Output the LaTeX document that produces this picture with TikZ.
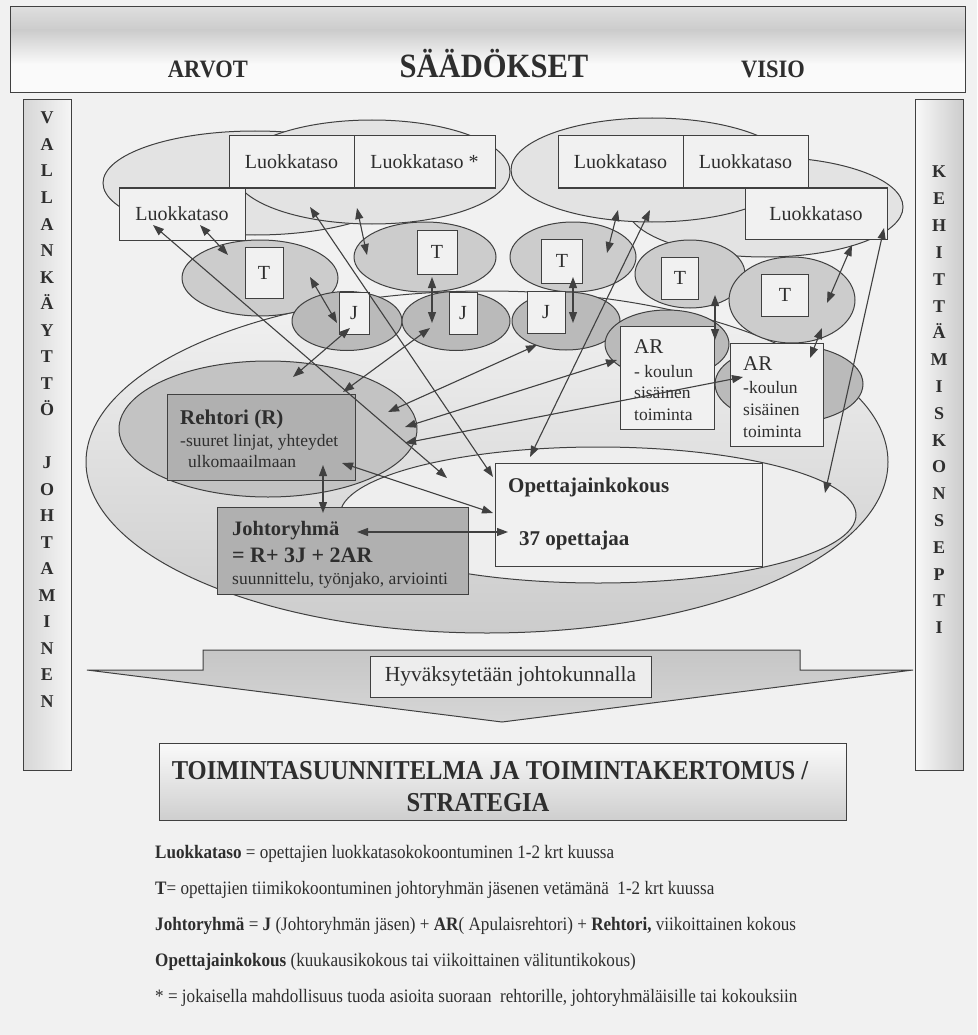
\documentclass[tikz,border=0pt]{standalone}
\usepackage{fontspec}
\setmainfont{Liberation Serif}
\newfontfamily\narrowserif[FakeStretch=0.9]{Liberation Serif}
\usetikzlibrary{shapes.geometric,arrows.meta}
\definecolor{bgc}{gray}{0.945}
\definecolor{ink}{gray}{0.18}
\definecolor{edge}{gray}{0.25}
\definecolor{lkfill}{gray}{0.89}
\definecolor{tfill}{gray}{0.80}
\definecolor{jfill}{gray}{0.73}
\definecolor{boxgray}{gray}{0.69}
\begin{document}
\begin{tikzpicture}[x=1pt,y=-1pt,
  every node/.style={text=ink},
  lkell/.style={ellipse, draw=edge, line width=1pt, fill=lkfill, inner sep=0pt},
  tell/.style={lkell, fill=tfill},
  jell/.style={lkell, fill=jfill},
  wbox/.style={rectangle, draw=edge, line width=1pt, fill=bgc, inner sep=0pt,
    font=\fontsize{20}{24}\selectfont},
  gbox/.style={wbox, fill=boxgray},
  txt/.style={inner sep=0pt, anchor=base west},
  conn/.style={draw=edge, line width=1.1pt, >={Triangle[length=11pt,width=8pt]}, <->},
  barletter/.style={font=\fontsize{18}{20}\selectfont\bfseries, text height=12pt,
    text depth=0pt, inner sep=0pt, anchor=center},
  ]
\useasboundingbox (0,0) rectangle (977,1035);
\fill[bgc] (0,0) rectangle (977,1035);

% ---------- top banner ----------
\shade[top color=gray!26, bottom color=gray!40] (10,7) rectangle (965,30);
\shade[top color=gray!40, bottom color=gray!4] (10,30) rectangle (965,64);
\fill[gray!4] (10,64) rectangle (965,93);
\node[draw=edge, line width=1pt, minimum width=955pt, minimum height=86pt, inner sep=0pt] (banner) at (487.5,50) {};
\node[inner sep=0pt, anchor=base, font=\narrowserif\bfseries\fontsize{25}{28}\selectfont] (arvot) at (208,78) {ARVOT};
\node[inner sep=0pt, anchor=base, font=\narrowserif\bfseries\fontsize{34}{38}\selectfont] (saad) at (494,78) {SÄÄDÖKSET};
\node[inner sep=0pt, anchor=base, font=\narrowserif\bfseries\fontsize{25}{28}\selectfont] (visio) at (773,78) {VISIO};

% ---------- side bars ----------
\node[rectangle, draw=edge, line width=1pt, left color=gray!32, right color=gray!8,
  minimum width=48pt, minimum height=670pt, inner sep=0pt] (leftbar) at (47,435) {};
\node[rectangle, draw=edge, line width=1pt, left color=gray!5, right color=gray!40,
  minimum width=48pt, minimum height=670pt, inner sep=0pt] (rightbar) at (939,435) {};
\foreach \ch/\s [count=\k] in {V/0,A/1,L/2,L/3,A/4,N/5,K/6,Ä/7,Y/8,T/9,T/10,Ö/11,
    J/13,O/14,H/15,T/16,A/17,M/18,I/19,N/20,E/21,N/22}
  \node[barletter] (lv\k) at (47,{118+\s*26.5}) {\ch};
\foreach \ch [count=\k from 0] in {K,E,H,I,T,T,Ä,M,I,S,K,O,N,S,E,P,T,I}
  \node[barletter] (rv\k) at (939,{172+\k*26.8}) {\ch};

% ---------- the school ----------
\node[ellipse, draw=edge, line width=1pt, top color=gray!10, bottom color=gray!40,
  minimum width=802pt, minimum height=342pt, inner sep=0pt] (school) at (487,462) {};

% class-level groups
\node[lkell, minimum width=304pt, minimum height=104pt] (lkE1) at (255,183) {};
\node[lkell, minimum width=276pt, minimum height=104pt] (lkE2) at (372,172) {};
\node[lkell, minimum width=276pt, minimum height=100pt] (lkE4) at (765,207) {};
\node[lkell, minimum width=282pt, minimum height=104pt] (lkE3) at (652,170) {};

% teams
\node[tell, minimum width=156pt, minimum height=76pt] (tE1) at (260,278) {};
\node[tell, minimum width=142pt, minimum height=70pt] (tE2) at (425,257) {};
\node[tell, minimum width=126pt, minimum height=70pt] (tE3) at (573,257) {};
\node[tell, minimum width=110pt, minimum height=68pt] (tE4) at (690,274) {};
\node[tell, minimum width=126pt, minimum height=86pt] (tE5) at (792,300) {};

% leadership members
\node[jell, minimum width=110pt, minimum height=59pt] (jE1) at (347,321) {};
\node[jell, minimum width=108pt, minimum height=59pt] (jE2) at (456,321) {};
\node[jell, minimum width=108pt, minimum height=58pt] (jE3) at (566,321) {};

% assistant principals
\node[jell, minimum width=124pt, minimum height=68pt] (arE1) at (667,344) {};
\node[jell, minimum width=148pt, minimum height=78pt] (arE2) at (789,384) {};

% principal
\node[ellipse, draw=edge, line width=1pt, fill=gray!47, inner sep=0pt,
  minimum width=298pt, minimum height=136pt,
  path picture={\shade[inner color=gray!10, outer color=gray!47] (375,420) circle (185pt);}]
  (rehE) at (268,429) {};

% teachers' meeting
\node[lkell, fill=gray!13, minimum width=516pt, minimum height=136pt] (opE) at (598,515) {};

% ---------- boxes ----------
\node[wbox, minimum width=126pt, minimum height=52pt] (lk1) at (182,214) {Luokkataso};
\node[wbox, minimum width=125pt, minimum height=52pt] (lk2) at (291.5,162) {Luokkataso};
\node[wbox, minimum width=141pt, minimum height=52pt] (lk3) at (424.5,162) {Luokkataso *};
\node[wbox, minimum width=125pt, minimum height=52pt] (lk4) at (620.5,162) {Luokkataso};
\node[wbox, minimum width=125pt, minimum height=52pt] (lk5) at (745.5,162) {Luokkataso};
\node[wbox, minimum width=142pt, minimum height=51pt] (lk6) at (816,213.5) {Luokkataso};

\node[wbox, minimum width=38pt, minimum height=51pt] (tb1) at (264,273) {T};
\node[wbox, minimum width=40pt, minimum height=44pt] (tb2) at (437,252) {T};
\node[wbox, minimum width=41pt, minimum height=44pt] (tb3) at (562,261) {T};
\node[wbox, minimum width=37pt, minimum height=42pt] (tb4) at (680,278) {T};
\node[wbox, minimum width=47pt, minimum height=42pt] (tb5) at (785,295) {T};

\node[wbox, minimum width=30pt, minimum height=42pt] (jb1) at (354,313) {J};
\node[wbox, minimum width=28pt, minimum height=42pt] (jb2) at (463,313) {J};
\node[wbox, minimum width=38pt, minimum height=42pt] (jb3) at (546,312) {J};

\node[wbox, minimum width=94pt, minimum height=103pt] (ar1) at (667,377.5) {};
\node[txt, font=\fontsize{21}{24}\selectfont] (ar1a) at (634,353) {AR};
\node[txt, font=\fontsize{17.5}{20}\selectfont] (ar1b) at (634,377) {- koulun};
\node[txt, font=\fontsize{17.5}{20}\selectfont] (ar1c) at (634,398) {sisäinen};
\node[txt, font=\fontsize{17.5}{20}\selectfont] (ar1d) at (634,420) {toiminta};

\node[wbox, minimum width=93pt, minimum height=103pt] (ar2) at (776.5,394.5) {};
\node[txt, font=\fontsize{21}{24}\selectfont] (ar2a) at (743,370) {AR};
\node[txt, font=\fontsize{17.5}{20}\selectfont] (ar2b) at (743,393) {-koulun};
\node[txt, font=\fontsize{17.5}{20}\selectfont] (ar2c) at (743,415) {sisäinen};
\node[txt, font=\fontsize{17.5}{20}\selectfont] (ar2d) at (743,437) {toiminta};

\node[gbox, minimum width=188pt, minimum height=86pt] (reh) at (261,437) {};
\node[txt, font=\fontsize{21}{24}\selectfont\bfseries] (reh1) at (180,424) {Rehtori (R)};
\node[txt, font=\fontsize{17.5}{20}\selectfont] (reh2) at (180,446) {-suuret linjat, yhteydet};
\node[txt, font=\fontsize{17.5}{20}\selectfont] (reh3) at (188,467) {ulkomaailmaan};

\node[gbox, minimum width=251pt, minimum height=87pt] (jr) at (342.5,550.5) {};
\node[txt, font=\fontsize{20.5}{24}\selectfont\bfseries] (jr1) at (232,535) {Johtoryhmä};
\node[txt, font=\fontsize{22}{24}\selectfont\bfseries] (jr2) at (232,562) {= R+ 3J + 2AR};
\node[txt, font=\fontsize{17.5}{20}\selectfont] (jr3) at (232,584) {suunnittelu, työnjako, arviointi};

\node[wbox, minimum width=267pt, minimum height=103pt,
  path picture={\shade[inner color=gray!30, outer color=bgc] (650,522) ellipse [x radius=85pt, y radius=32pt];}]
  (op) at (628.5,514.5) {};
\node[txt, font=\fontsize{21}{24}\selectfont\bfseries] (op1) at (508,492) {Opettajainkokous};
\node[txt, font=\fontsize{21}{24}\selectfont\bfseries] (op2) at (519,545) {37 opettajaa};

% ---------- connectors ----------
\coordinate (a1) at (153,225); \coordinate (a2) at (447,478);
\coordinate (b1) at (200,225); \coordinate (b2) at (228,255);
\coordinate (c1) at (310,207); \coordinate (c2) at (493,477);
\coordinate (d1) at (357,208); \coordinate (d2) at (367,255);
\coordinate (e1) at (310,277); \coordinate (e2) at (337,323);
\coordinate (f1) at (432,277); \coordinate (f2) at (432,323);
\coordinate (g1) at (350,328); \coordinate (g2) at (293,377);
\coordinate (h1) at (430,328); \coordinate (h2) at (343,392);
\coordinate (i1) at (537,345); \coordinate (i2) at (388,412);
\coordinate (j1) at (617,360); \coordinate (j2) at (405,427);
\coordinate (k1) at (743,377); \coordinate (k2) at (405,443);
\coordinate (l1) at (650,210); \coordinate (l2) at (530,457);
\coordinate (m1) at (618,210); \coordinate (m2) at (607,253);
\coordinate (n1) at (573,277); \coordinate (n2) at (573,323);
\coordinate (o1) at (852,245); \coordinate (o2) at (827,303);
\coordinate (p1) at (884,228); \coordinate (p2) at (825,493);
\coordinate (q1) at (715,295); \coordinate (q2) at (715,340);
\coordinate (r1) at (822,328); \coordinate (r2) at (810,358);
\coordinate (s1) at (323,465); \coordinate (s2) at (323,513);
\coordinate (t1) at (342,463); \coordinate (t2) at (493,513);
\coordinate (u1) at (357,532); \coordinate (u2) at (508,532);
\foreach \c in {a,b,c,d,e,f,g,h,i,j,k,l,m,n,o,p,q,r,s,t,u}
  \draw[conn] (\c1) -- (\c2);

% ---------- approval arrow ----------
\shadedraw[top color=gray!45, bottom color=gray!32, draw=edge, line width=1pt]
  (203,650) -- (800,650) -- (800,670) -- (913,670) -- (502,722) -- (87,670) -- (203,670) -- cycle;
\node[wbox, fill=gray!14, minimum width=281pt, minimum height=41pt,
  font=\fontsize{21.5}{24}\selectfont] (approve) at (510.5,676.5) {Hyväksytetään johtokunnalla};

% ---------- plan box ----------
\node[rectangle, draw=edge, line width=1pt, top color=gray!4, bottom color=gray!38,
  minimum width=687pt, minimum height=77pt, inner sep=0pt] (plan) at (502.5,781.5) {};
\node[inner sep=0pt, anchor=base, font=\narrowserif\bfseries\fontsize{27.3}{30}\selectfont] (plan1) at (490,779) {TOIMINTASUUNNITELMA JA TOIMINTAKERTOMUS /};
\node[inner sep=0pt, anchor=base, font=\narrowserif\bfseries\fontsize{27.3}{30}\selectfont] (plan2) at (478,811) {STRATEGIA};

% ---------- legend ----------
\begin{scope}[every node/.append style={txt, font=\narrowserif\fontsize{19}{22}\selectfont}]
\node (leg1) at (155,858) {\textbf{Luokkataso} = opettajien luokkatasokokoontuminen 1-2 krt kuussa};
\node (leg2) at (155,894) {\textbf{T}= opettajien tiimikokoontuminen johtoryhmän jäsenen vetämänä~ 1-2 krt kuussa};
\node (leg3) at (155,930) {\textbf{Johtoryhmä} = \textbf{J} (Johtoryhmän jäsen) + \textbf{AR}( Apulaisrehtori) + \textbf{Rehtori,} viikoittainen kokous};
\node (leg4) at (155,966) {\textbf{Opettajainkokous} (kuukausikokous tai viikoittainen välituntikokous)};
\node (leg5) at (155,1002) {* = jokaisella mahdollisuus tuoda asioita suoraan~ rehtorille, johtoryhmäläisille tai kokouksiin};
\end{scope}
\end{tikzpicture}
\end{document}
